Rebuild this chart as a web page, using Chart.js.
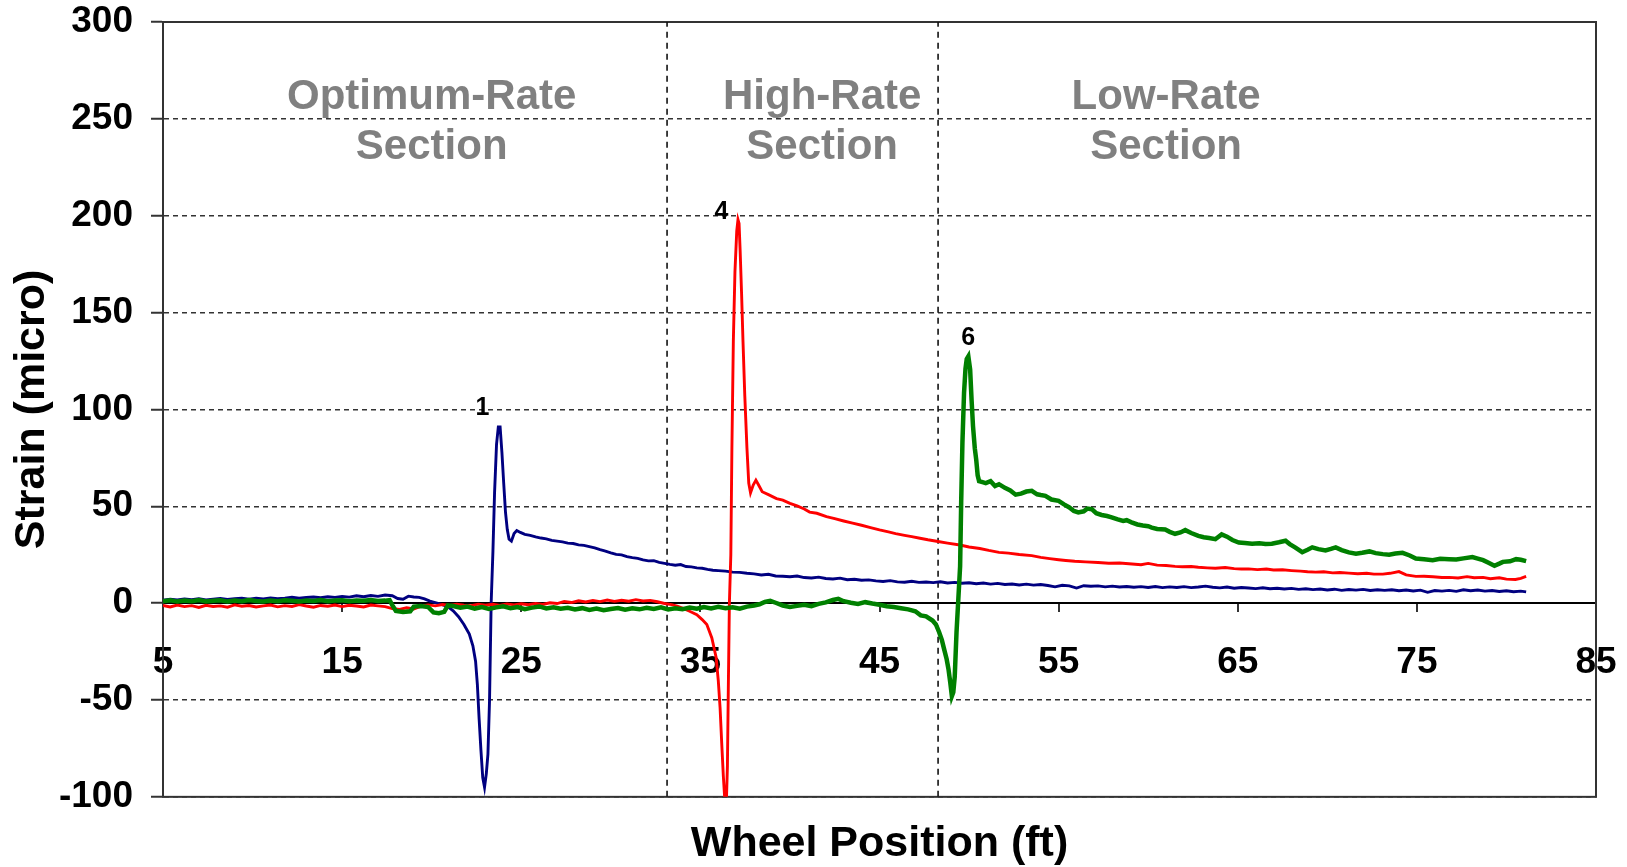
<!DOCTYPE html>
<html>
<head>
<meta charset="utf-8">
<title>Strain vs Wheel Position</title>
<script src="https://cdn.jsdelivr.net/npm/chart.js@4.4.1/dist/chart.umd.min.js"></script>
<style>
  html, body { margin: 0; padding: 0; background: #fff; }
  #wrap { width: 1627px; height: 867px; }
</style>
</head>
<body>
<div id="wrap"><canvas id="strainChart"></canvas></div>
<script>
// gauge 1 - optimum-rate section (blue)
const gauge1X = [
  5.0,5.4,5.8,6.2,6.6,7.0,7.4,7.8,8.2,8.6,
  9.0,9.4,9.8,10.2,10.6,11.0,11.4,11.8,12.2,12.6,
  13.0,13.4,13.8,14.2,14.6,15.0,15.4,15.8,16.2,16.6,
  17.0,17.4,17.8,18.1,18.4,18.7,19.0,19.3,19.6,19.9,
  20.2,20.5,20.9,21.2,21.5,21.8,22.1,22.3,22.45,22.55,
  22.65,22.75,22.85,22.95,23.05,23.14,23.23,23.32,23.42,23.51,
  23.62,23.72,23.82,23.92,24.02,24.12,24.22,24.32,24.45,24.6,
  24.75,24.95,25.2,25.5,25.8,26.1,26.4,26.7,27.0,27.3,
  27.6,27.9,28.2,28.5,28.8,29.1,29.4,29.7,30.0,30.3,
  30.6,30.9,31.2,31.5,31.8,32.1,32.4,32.7,33.0,33.3,
  33.6,33.9,34.2,34.5,34.8,35.1,35.4,35.7,36.0,36.4,
  36.8,37.2,37.6,38.0,38.4,38.8,39.2,39.6,40.0,40.4,
  40.8,41.2,41.6,42.0,42.4,42.8,43.2,43.6,44.0,44.4,
  44.8,45.2,45.6,46.0,46.4,46.8,47.2,47.6,48.0,48.4,
  48.8,49.2,49.6,50.0,50.4,50.8,51.2,51.6,52.0,52.4,
  52.8,53.2,53.6,54.0,54.4,54.8,55.2,55.6,56.0,56.4,
  56.8,57.2,57.6,58.0,58.4,58.8,59.2,59.6,60.0,60.4,
  60.8,61.2,61.6,62.0,62.4,62.8,63.2,63.6,64.0,64.4,
  64.8,65.2,65.6,66.0,66.4,66.8,67.2,67.6,68.0,68.4,
  68.8,69.2,69.6,70.0,70.4,70.8,71.2,71.6,72.0,72.4,
  72.8,73.2,73.6,74.0,74.4,74.8,75.2,75.6,76.0,76.4,
  76.8,77.2,77.6,78.0,78.4,78.8,79.2,79.6,80.0,80.4,
  80.8,81.1
];
const gauge1Y = [
  1.5,2.0,1.6,2.2,1.8,2.3,1.7,2.1,2.4,1.9,
  2.3,2.6,2.0,2.5,2.2,2.7,2.3,2.6,3.0,2.5,
  2.9,3.2,2.8,3.3,3.0,3.4,3.1,3.8,3.3,3.9,
  3.5,4.2,3.8,2.4,2.0,3.6,3.2,3.0,2.2,1.0,
  0.3,-0.5,-1.8,-4,-7,-11,-16,-22,-30,-42,
  -60,-76,-90,-95,-88,-78,-50,0,27,57,
  82,91,91,78,62,47,38,33,32,36,
  37.5,36.5,35.5,35.0,34.2,33.6,33.2,32.4,32.0,31.6,
  31.0,30.8,30.1,29.8,29.2,28.5,27.6,26.9,26.0,25.2,
  24.9,24.0,23.5,23.1,22.3,21.8,21.9,21.0,20.5,20.0,
  19.6,19.9,18.9,18.7,18.2,18.0,17.4,17.0,16.8,16.5,
  16.0,15.9,15.4,15.1,14.5,14.9,14.0,13.9,13.6,14.0,
  13.2,13.0,13.4,12.7,12.5,12.9,12.1,12.3,11.8,12.0,
  11.5,11.2,11.6,11.0,10.8,11.3,10.7,10.9,10.6,11.0,
  10.4,10.7,10.3,10.5,10.0,10.4,9.8,10.2,9.6,9.9,
  9.4,9.8,9.3,9.6,9.1,8.4,9.2,8.9,7.8,9.0,
  8.7,8.9,8.4,8.8,8.3,8.6,8.2,8.5,8.1,8.6,
  8.0,8.4,8.1,8.5,8.0,8.3,8.8,8.2,7.9,8.3,
  7.7,8.1,7.8,7.5,7.9,7.4,7.7,7.3,7.6,7.1,
  7.4,7.0,7.3,6.8,7.2,6.6,7.0,6.7,7.1,6.5,
  6.9,6.6,6.9,6.4,6.8,6.3,6.7,5.6,6.5,6.2,
  6.6,6.1,6.9,6.4,6.8,6.2,6.5,6.0,6.4,5.9,
  6.2,5.8
];

// gauge 4 - high-rate section (red)
const gauge4X = [
  5.0,5.4,5.8,6.2,6.6,7.0,7.4,7.8,8.2,8.6,
  9.0,9.4,9.8,10.2,10.6,11.0,11.4,11.8,12.2,12.6,
  13.0,13.4,13.8,14.2,14.6,15.0,15.4,15.8,16.2,16.6,
  17.0,17.4,17.8,18.2,18.6,19.0,19.4,19.8,20.2,20.6,
  21.0,21.4,21.8,22.2,22.6,23.0,23.4,23.8,24.2,24.6,
  25.0,25.4,25.8,26.2,26.6,27.0,27.4,27.8,28.2,28.6,
  29.0,29.4,29.8,30.2,30.6,31.0,31.4,31.8,32.2,32.6,
  33.0,33.4,33.7,34.0,34.4,34.8,35.1,35.36,35.64,35.88,
  36.0,36.1,36.19,36.28,36.38,36.46,36.51,36.56,36.62,36.7,
  36.76,36.84,36.93,37.03,37.1,37.16,37.22,37.3,37.38,37.48,
  37.6,37.7,37.8,37.95,38.1,38.25,38.45,38.8,39.25,39.6,
  40.0,40.4,40.8,41.1,41.5,42.04,42.5,43.0,43.5,44.0,
  44.5,45.0,45.5,45.9,46.4,46.8,47.26,47.7,48.27,48.8,
  49.49,50.0,50.6,51.1,51.67,52.2,52.8,53.5,54.0,54.5,
  55.0,55.4,55.9,56.5,57.2,57.8,58.4,59.1,59.6,60.0,
  60.5,61.0,61.5,61.9,62.4,62.8,63.3,63.75,64.3,64.8,
  65.2,65.6,66.1,66.6,67.0,67.5,68.0,68.5,68.9,69.35,
  69.8,70.3,70.7,71.2,71.7,72.2,72.6,73.1,73.5,74.0,
  74.4,74.94,75.4,75.9,76.4,76.8,77.3,77.8,78.2,78.7,
  79.1,79.6,80.0,80.5,80.8,81.1
];
const gauge4Y = [
  -1.2,-2.0,-1.0,-1.8,-1.3,-2.2,-1.1,-1.7,-1.4,-2.1,
  -0.9,-1.6,-1.2,-2.0,-1.4,-1.0,-1.9,-1.3,-1.7,-0.8,
  -1.5,-2.1,-1.2,-1.6,-1.0,-1.8,-1.1,-1.5,-2.0,-1.0,
  -1.4,-1.8,-2.8,-3.2,-2.4,-3.0,-1.5,-0.9,-1.4,-0.7,
  -1.2,-0.6,-1.0,-1.3,-0.5,-1.1,-0.6,-1.2,-0.4,-0.9,
  -0.3,-0.8,-0.2,-0.7,0.2,-0.2,0.8,0.3,1.2,0.6,
  1.4,0.8,1.6,0.9,1.5,1.0,1.8,1.1,1.4,0.7,
  -0.2,-0.8,-1.5,-2.6,-4.2,-6,-8.5,-11,-18,-28,
  -40,-54,-72,-89,-104,-100,-84,-44,0,25,
  80,135,171,192,198,196,182,160,135,107,
  80,62,57,61,63.5,61,57.5,56.0,54.0,53.2,
  51.5,50.2,48.6,47.0,46.4,44.7,43.6,42.4,41.3,40.2,
  39.0,37.8,36.8,35.9,35.0,34.3,33.5,32.7,31.8,31.0,
  30.0,29.0,28.2,27.2,26.2,25.8,25.1,24.5,23.6,23.0,
  22.4,22.0,21.6,21.3,21.0,20.6,20.7,20.2,19.8,20.5,
  19.6,19.4,19.0,18.8,18.9,18.5,18.2,18.0,18.4,17.8,
  17.6,17.7,17.3,17.6,17.1,17.2,16.8,16.5,16.2,16.0,
  16.2,15.6,15.8,15.5,15.2,15.4,15.0,15.0,15.4,16.3,
  14.6,13.8,13.9,13.6,13.2,13.3,13.0,13.7,13.1,13.3,
  12.6,13.1,12.4,12.2,12.8,13.8
];

// gauge 6 - low-rate section (green)
const gauge6X = [
  5.0,5.4,5.8,6.2,6.6,7.0,7.4,7.8,8.2,8.6,
  9.0,9.4,9.8,10.2,10.6,11.0,11.4,11.8,12.2,12.6,
  13.0,13.4,13.8,14.2,14.6,15.0,15.4,15.8,16.2,16.6,
  17.0,17.4,17.65,17.8,18.0,18.4,18.8,19.0,19.4,19.8,
  20.1,20.4,20.7,20.9,21.2,21.6,22.0,22.4,22.8,23.2,
  23.6,24.0,24.4,24.8,25.2,25.6,26.0,26.4,26.8,27.2,
  27.6,28.0,28.4,28.8,29.2,29.6,30.0,30.4,30.8,31.2,
  31.6,32.0,32.4,32.8,33.2,33.6,34.0,34.4,34.8,35.2,
  35.6,36.0,36.4,36.8,37.2,37.6,38.0,38.3,38.6,38.9,
  39.2,39.6,40.0,40.4,40.8,41.2,41.6,42.0,42.4,42.7,
  43.0,43.4,43.8,44.2,44.6,45.0,45.4,45.8,46.2,46.6,
  47.0,47.3,47.6,47.96,48.15,48.33,48.48,48.6,48.75,48.85,
  48.95,49.04,49.12,49.2,49.3,49.4,49.5,49.56,49.63,49.72,
  49.8,49.87,49.96,50.06,50.14,50.22,50.32,50.4,50.48,50.56,
  50.75,50.93,51.2,51.45,51.67,52.0,52.3,52.6,52.9,53.2,
  53.5,53.8,54.0,54.26,54.6,55.0,55.3,55.6,55.85,56.1,
  56.4,56.6,56.85,57.1,57.4,57.7,57.96,58.3,58.6,58.8,
  59.07,59.4,59.7,60.0,60.2,60.5,60.95,61.2,61.5,61.8,
  62.07,62.4,62.8,63.1,63.4,63.75,64.1,64.4,64.7,65.06,
  65.4,65.8,66.2,66.55,66.9,67.3,67.67,67.9,68.2,68.6,
  68.9,69.16,69.5,69.9,70.2,70.47,70.8,71.2,71.6,71.95,
  72.35,72.7,73.1,73.45,73.8,74.2,74.6,74.94,75.4,75.88,
  76.3,76.8,77.2,77.6,78.1,78.4,78.7,79.0,79.33,79.6,
  79.8,80.2,80.54,80.8,81.1
];
const gauge6Y = [
  1.0,1.5,0.8,1.3,1.0,1.6,0.9,1.2,1.5,0.8,
  1.3,1.0,1.6,1.1,0.9,1.4,1.0,1.5,1.2,0.9,
  1.4,1.1,1.6,1.0,1.3,1.5,1.0,1.4,1.2,1.6,
  1.1,1.3,1.5,-1.0,-4.0,-4.6,-4.2,-1.8,-1.5,-2.0,
  -4.8,-5.2,-4.5,-1.2,-1.5,-2.4,-1.8,-2.8,-2.0,-3.0,
  -2.2,-1.6,-2.6,-2.0,-3.1,-2.3,-1.7,-2.7,-2.1,-2.9,
  -2.4,-3.3,-2.6,-3.5,-2.8,-3.6,-3.0,-2.5,-3.4,-2.7,
  -3.2,-2.4,-3.0,-2.2,-3.3,-2.6,-3.1,-2.3,-2.9,-2.0,
  -2.7,-1.9,-2.6,-2.1,-2.9,-1.8,-1.2,-0.6,0.6,1.2,
  0.2,-1.2,-2.0,-1.4,-0.8,-1.6,-0.4,0.4,1.6,2.2,
  1.0,0.2,-0.4,0.5,-0.2,-0.8,-1.6,-2.0,-2.6,-3.2,
  -4.2,-6.3,-6.8,-9,-11,-15,-19,-23.5,-29,-34,
  -41,-48,-46,-38,-15,2,19,52,83,108.6,
  121,126,127.4,120.6,105,91.4,80,74,66,63,
  62.5,62,63,60.5,61.4,59.5,58.2,56,56.5,57.6,
  58,56.2,55.8,55.4,53.5,52.8,51.0,49.4,47.6,46.8,
  47.4,48.8,48.5,46.4,45.5,45.0,44.3,43.2,42.4,42.8,
  41.7,40.6,40.1,39.7,39.0,38.3,38.0,36.8,35.8,36.5,
  37.7,36.2,34.7,34.0,33.6,33.0,35.5,34.3,32.6,31.3,
  31.0,30.6,30.9,30.5,30.7,31.4,32.2,30.5,28.8,26.3,
  27.6,28.8,27.9,27.2,28.0,28.8,27.4,26.2,25.5,26.0,
  26.7,25.8,25.3,25.0,25.6,26.0,24.6,23.0,22.6,22.2,
  22.9,22.7,22.5,23.1,23.8,23.0,22.2,20.8,19.3,20.4,
  21.3,21.6,22.7,22.4,21.7
];

// axis ranges
const xRange = [5, 85];
const xStep = 10;
const yRange = [-100, 300];
const yStep = 50;

// section boundaries and headings
const sectionBounds = [33.14, 48.27];
const sectionNames = ['Optimum-Rate', 'High-Rate', 'Low-Rate'];
const sectionCenters = [20.0, 41.8, 61.0];
const sectionRows = [261, 235];

// gauge numbers placed next to each peak
const peakNames = ['1', '4', '6'];
const peakLabelX = [22.84, 36.18, 49.95];
const peakLabelY = [100.5, 201.8, 136.6];

const FONT = '"Liberation Sans", Arial, Helvetica, sans-serif';

function toPoints(xs, ys) {
  return xs.map((x, i) => ({ x: x, y: ys[i] }));
}

function series(label, xs, ys, color, width) {
  return {
    label: label,
    data: toPoints(xs, ys),
    borderColor: color,
    borderWidth: width,
    pointRadius: 0,
    tension: 0,
    fill: false
  };
}

function divider(x) {
  return {
    label: 'divider',
    data: [{ x: x, y: yRange[0] }, { x: x, y: yRange[1] }],
    borderColor: '#111',
    borderWidth: 1.6,
    borderDash: [6, 5],
    pointRadius: 0,
    fill: false
  };
}

// frame around the plot + text labels
const annotations = {
  id: 'annotations',
  beforeDatasetsDraw(chart) {
    const { ctx, chartArea: a } = chart;
    ctx.save();
    ctx.strokeStyle = '#333';
    ctx.lineWidth = 2;
    ctx.strokeRect(a.left, a.top, a.right - a.left, a.bottom - a.top);
    ctx.restore();
  },
  afterDatasetsDraw(chart) {
    const { ctx, scales: { x, y } } = chart;
    ctx.save();
    ctx.textAlign = 'center';
    ctx.textBaseline = 'middle';
    ctx.fillStyle = '#808080';
    ctx.font = 'bold 42px ' + FONT;
    sectionNames.forEach((name, i) => {
      const px = x.getPixelForValue(sectionCenters[i]);
      ctx.fillText(name, px, y.getPixelForValue(sectionRows[0]));
      ctx.fillText('Section', px, y.getPixelForValue(sectionRows[1]));
    });
    ctx.fillStyle = '#000';
    ctx.font = 'bold 25px ' + FONT;
    peakNames.forEach((name, i) => {
      ctx.fillText(name, x.getPixelForValue(peakLabelX[i]), y.getPixelForValue(peakLabelY[i]));
    });
    ctx.restore();
  }
};

const ctx = document.getElementById('strainChart').getContext('2d');
const chart = new Chart(ctx, {
  type: 'line',
  data: {
    datasets: [
      series('Gauge 6', gauge6X, gauge6Y, '#008000', 4.5),
      series('Gauge 4', gauge4X, gauge4Y, '#ff0000', 2.9),
      series('Gauge 1', gauge1X, gauge1Y, '#000080', 2.9),
      divider(sectionBounds[0]),
      divider(sectionBounds[1])
    ]
  },
  options: {
    responsive: true,
    maintainAspectRatio: false,
    devicePixelRatio: 1,
    animation: false,
    events: [],
    layout: { padding: { top: 22, right: 31, bottom: 0, left: 0 } },
    plugins: {
      legend: { display: false },
      tooltip: { enabled: false },
      title: {
        display: true,
        position: 'bottom',
        fullSize: false,
        text: 'Wheel Position (ft)',
        color: '#000',
        font: { family: FONT, size: 43, weight: 'bold', lineHeight: 1.05 },
        padding: { top: 25, bottom: 0 }
      }
    },
    scales: {
      x: {
        type: 'linear',
        position: { y: 0 },
        min: xRange[0],
        max: xRange[1],
        ticks: {
          stepSize: xStep,
          autoSkip: false,
          maxRotation: 0,
          padding: 29,
          color: '#000',
          font: { family: FONT, size: 37, weight: 'bold', lineHeight: 1.2 }
        },
        grid: {
          drawOnChartArea: false,
          drawTicks: true,
          tickLength: 8,
          color: '#333',
          lineWidth: 2
        },
        border: { display: true, color: '#000', width: 2 },
        afterFit(scale) {
          scale.paddingLeft = 0;
          scale.paddingRight = 0;
        }
      },
      y: {
        type: 'linear',
        position: 'left',
        min: yRange[0],
        max: yRange[1],
        ticks: {
          stepSize: yStep,
          padding: 18,
          color: '#000',
          font: { family: FONT, size: 37, weight: 'bold', lineHeight: 1.2 }
        },
        grid: {
          color: '#333',
          lineWidth: 1.5,
          tickLength: 12,
          tickWidth: 2
        },
        border: { display: true, color: '#333', width: 2, dash: [5, 4] },
        title: {
          display: true,
          text: 'Strain (micro)',
          color: '#000',
          font: { family: FONT, size: 43, weight: 'bold', lineHeight: 1.2 },
          padding: { top: 6, bottom: 0 }
        },
        afterFit(scale) {
          scale.width = 163;
          scale.paddingTop = 0;
          scale.paddingBottom = 0;
        }
      }
    }
  },
  plugins: [annotations]
});
</script>
</body>
</html>
